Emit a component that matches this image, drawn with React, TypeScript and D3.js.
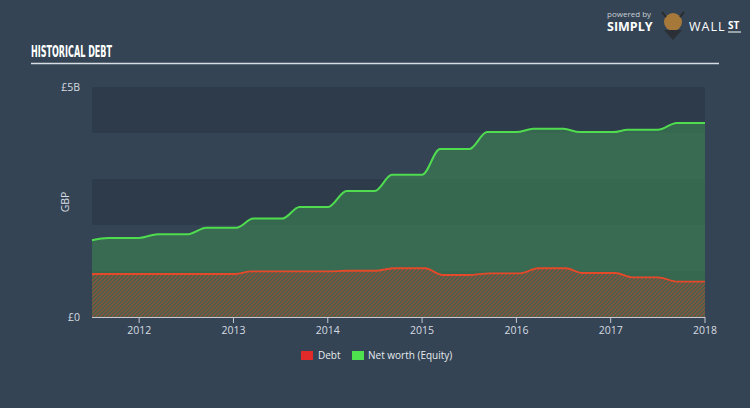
import React from "react";
import * as d3 from "d3";

const equityDates = [2011.5, 2011.67, 2012.0, 2012.2, 2012.52, 2012.71, 2013.03, 2013.21, 2013.52, 2013.7, 2014.0, 2014.2, 2014.5, 2014.68, 2015.0, 2015.19, 2015.5, 2015.69, 2016.0, 2016.18, 2016.5, 2016.67, 2017.03, 2017.18, 2017.5, 2017.7, 2018.0];
const equityValues = [1.67, 1.72, 1.72, 1.8, 1.8, 1.94, 1.94, 2.14, 2.14, 2.39, 2.39, 2.74, 2.74, 3.09, 3.09, 3.65, 3.65, 4.02, 4.02, 4.09, 4.09, 4.02, 4.02, 4.07, 4.07, 4.22, 4.22];

const debtDates = [2011.5, 2013.02, 2013.19, 2014.0, 2014.2, 2014.5, 2014.71, 2015.03, 2015.22, 2015.5, 2015.72, 2016.04, 2016.23, 2016.52, 2016.7, 2017.05, 2017.23, 2017.5, 2017.71, 2018.0];
const debtValues = [0.935, 0.935, 0.99, 0.99, 1.005, 1.005, 1.06, 1.06, 0.913, 0.913, 0.95, 0.95, 1.06, 1.06, 0.957, 0.957, 0.863, 0.863, 0.767, 0.767];

const xTicks = [2012, 2013, 2014, 2015, 2016, 2017, 2018];
const yTickValues = [0, 5];
const yTickLabels = ["£0", "£5B"];
const bandStarts = [0, 2, 4];

const W = 750, H = 408;
const L = 92, R = 705, T = 87, B = 317;

export default function App() {
  const x = d3.scaleLinear().domain([2011.5, 2018]).range([L, R]);
  const y = d3.scaleLinear().domain([0, 5]).range([B, T]);

  const eq = equityDates.map((d, i) => [d, equityValues[i]] as [number, number]);
  const db = debtDates.map((d, i) => [d, debtValues[i]] as [number, number]);

  const area = d3.area<[number, number]>().x(d => x(d[0])).y0(y(0)).y1(d => y(d[1])).curve(d3.curveMonotoneX);
  const line = d3.line<[number, number]>().x(d => x(d[0])).y(d => y(d[1])).curve(d3.curveMonotoneX);

  const font = "'Open Sans', 'DejaVu Sans', sans-serif";
  const p = 2.828;

  return (
    <svg width={W} height={H} style={{ position: "absolute", left: 0, top: 0, display: "block" }}>
      <defs>
        <pattern id="hatch" width={p} height={p} patternUnits="userSpaceOnUse" patternTransform="rotate(45)">
          <rect width={p} height={p} fill="#3b6350" />
          <line x1="0.7" y1="0" x2="0.7" y2={p} stroke="#b24a30" strokeWidth="1.05" />
        </pattern>
      </defs>
      <rect width={W} height={H} fill="#344454" />
      {bandStarts.map(b => (
        <rect key={b} x={L} width={R - L} y={y(b + 1)} height={y(b) - y(b + 1)} fill="#2e3b4b" />
      ))}
      {/* header */}
      <text x={31} y={57} fill="#ffffff" fontFamily="'DejaVu Sans Condensed', 'DejaVu Sans', sans-serif" fontWeight="bold" fontSize={16} transform="translate(31,57) scale(0.56,1) translate(-31,-57)">HISTORICAL DEBT</text>
      <line x1={31} x2={719} y1={63.5} y2={63.5} stroke="#d8dde3" strokeWidth={1.5} />
      {/* logo */}
      <text x={607} y={17} fill="#c8ced6" fontFamily={font} fontSize={8}>powered by</text>
      <text x={607} y={31} fill="#ffffff" fontFamily={font} fontWeight="bold" fontSize={12.5}>SIMPLY</text>
      <circle cx={673} cy={22} r={9} fill="#a6793b" />
      <path d="M662 12 L666 17 M684 12 L680 17" stroke="#2a2a2a" strokeWidth={2} />
      <path d="M664 30 L673 40 L682 30 Z" fill="#2b2f36" />
      <text x={689} y={31} fill="#ffffff" fontFamily={font} fontSize={12.5} style={{ letterSpacing: "1px" }}>WALL</text>
      <text x={728} y={29} fill="#ffffff" fontFamily={font} fontWeight="bold" fontSize={10}>ST</text>
      <line x1={728} x2={741} y1={32} y2={32} stroke="#ffffff" strokeWidth={1} />

      {/* areas */}
      <path d={area(eq) ?? ""} fill="#3a7a52" fillOpacity={0.72} />
      <path d={line(eq) ?? ""} fill="none" stroke="#4fdc4f" strokeWidth={2} />
      <path d={area(db) ?? ""} fill="url(#hatch)" />
      <path d={line(db) ?? ""} fill="none" stroke="#e4492a" strokeWidth={1.8} />

      {/* axes */}
      <line x1={L} x2={R} y1={B + 0.5} y2={B + 0.5} stroke="#c3cad3" strokeWidth={1} />
      {xTicks.map(t => (
        <g key={t}>
          <line x1={x(t)} x2={x(t)} y1={B} y2={B + 6} stroke="#c3cad3" strokeWidth={1} />
          <text x={x(t)} y={B + 17} fill="#d6dbe1" fontFamily={font} fontSize={10.5} textAnchor="middle">{t}</text>
        </g>
      ))}
      {yTickValues.map((v, i) => (
        <text key={v} x={80} y={y(v) + 4} fill="#d6dbe1" fontFamily={font} fontSize={10.5} textAnchor="end">{yTickLabels[i]}</text>
      ))}
      <text x={0} y={0} transform={`translate(69,${(T + B) / 2}) rotate(-90)`} fill="#d6dbe1" fontFamily={font} fontSize={10.5} textAnchor="middle">GBP</text>

      {/* legend */}
      <rect x={301} y={351} width={12} height={9} fill="#e32a2a" />
      <text x={318} y={359} fill="#e6eaee" fontFamily={font} fontSize={10}>Debt</text>
      <rect x={352} y={351} width={12} height={9} fill="#4ee24e" />
      <text x={368} y={359} fill="#e6eaee" fontFamily={font} fontSize={10}>Net worth (Equity)</text>
    </svg>
  );
}
